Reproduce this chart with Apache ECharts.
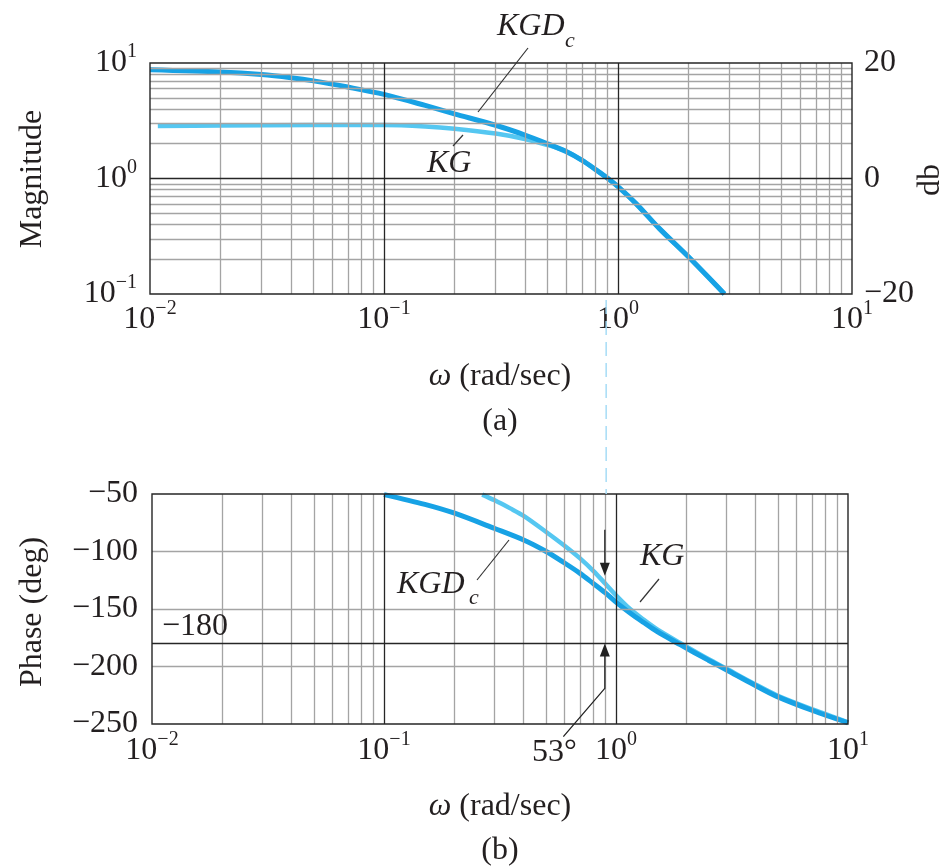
<!DOCTYPE html>
<html><head><meta charset="utf-8">
<script src="https://cdn.jsdelivr.net/npm/echarts@6/dist/echarts.min.js"></script>
<style>html,body{margin:0;padding:0;background:#fff}#c{width:947px;height:867px}</style>
</head><body><div id="c"></div>
<script>
// ---------- data ----------
const magW_KGDc = [0.01,0.02,0.03,0.04,0.05,0.07,0.1,0.15,0.2,0.3,0.4,0.5,0.6,0.7,0.8,0.9,1.0,1.2,1.5,2.0,2.5,2.85];
const mag_KGDc  = [8.75,8.36,7.94,7.46,7.0,6.19,5.35,4.29,3.63,2.89,2.38,2.0,1.71,1.44,1.2,1.01,0.85,0.6,0.37,0.21,0.132,0.1];
const magW_KG   = [0.0108,0.02,0.05,0.1,0.15,0.2,0.3,0.4,0.5,0.6,0.7,0.8,0.9,1.0,1.2,1.5,2.0,2.5,2.85];
const mag_KG    = [2.85,2.88,2.9,2.9,2.82,2.7,2.45,2.2,1.95,1.72,1.44,1.2,1.01,0.85,0.6,0.37,0.21,0.132,0.1];

const phW_KGDc = [0.1,0.15,0.2,0.3,0.4,0.5,0.6,0.7,0.8,0.9,1.0,1.15,1.31,1.5,1.89,2.5,3.0,3.9,4.93,7.08,10];
const ph_KGDc  = [-50.5,-59,-66.5,-80,-90,-100,-110,-119,-128,-136,-144,-153.5,-161.5,-169.5,-181,-194.5,-203,-215.5,-226,-238.5,-249];
const phW_KG   = [0.265,0.3,0.35,0.4,0.5,0.6,0.7,0.8,0.9,1.0,1.15,1.31,1.5,1.89,2.5,3.0,3.9,4.93,7.08,10];
const ph_KG    = [-50.5,-55.5,-62.5,-69,-83,-95,-106,-117,-128,-138,-150,-159,-167.5,-179.5,-193.5,-202,-214.5,-225,-237.5,-248.5];

const xMinor   = [0.02,0.03,0.04,0.05,0.06,0.07,0.08,0.09,0.2,0.3,0.4,0.5,0.6,0.7,0.8,0.9,2,3,4,5,6,7,8,9];
const xMajor   = [0.1,1];
const magMinor = [0.2,0.3,0.4,0.5,0.6,0.7,0.8,0.9,2,3,4,5,6,7,8,9];
const magMajor = [1];
const phGrid   = [-100,-150,-200];
const phRef    = -180;
const wc       = 0.89;      // crossover frequency
const pmTop    = -81, pmTip = -121, pmLow = -219; // arrow phases
const pmText   = '53°';

// ---------- styling ----------
const FONT = '"Liberation Serif","Times New Roman",serif';
const INK = '#231f20';
const C_KGDc = '#17a2e5';
const C_KG = '#55c7f1';
const GRIDC = '#a4a4a4';
const MAJC = '#262626';

const zip = (a,b) => a.map((v,i)=>[v,b[i]]);
const minus = s => String(s).replace('-', '\u2212');
const pow10 = v => { const e = Math.round(Math.log10(v)); return '{b|10}{s|' + minus(e) + '}'; };
const supRich = {
  b:{fontFamily:FONT,fontSize:32,color:INK,lineHeight:42},
  s:{fontFamily:FONT,fontSize:20,color:INK,verticalAlign:'top'}
};
const gridLines = (xs, xsMaj, ys, ysMaj) => ({
  silent:true, symbol:['none','none'], label:{show:false}, animation:false, z:5,
  emphasis:{disabled:true},
  lineStyle:{color:GRIDC,width:1.3,type:'solid'},
  data:[
    ...xs.map(v=>({xAxis:v})),
    ...ys.map(v=>({yAxis:v})),
    ...xsMaj.map(v=>({xAxis:v,lineStyle:{color:MAJC,width:1.3,type:'solid'}})),
    ...ysMaj.map(v=>({yAxis:v,lineStyle:{color:MAJC,width:1.3,type:'solid'}}))
  ]
});
const baseAxis = {axisLine:{show:false},axisTick:{show:false},splitLine:{show:false},minorTick:{show:false},minorSplitLine:{show:false}};
const curve = (name, xi, yi, d, color, w, z, ml) => ({name, type:'line', xAxisIndex:xi, yAxisIndex:yi, data:d,
  showSymbol:false, smooth:0.3, z, lineStyle:{color, width:w, cap:'butt'}, markLine:ml});

const chart = echarts.init(document.getElementById('c'));
chart.setOption({
  animation:false,
  grid:[
    {left:150,top:63,width:702,height:231,containLabel:false,outerBoundsMode:'none'},
    {left:152,top:494,width:696,height:230,containLabel:false,outerBoundsMode:'none'}
  ],
  xAxis:[
    Object.assign({type:'log',logBase:10,gridIndex:0,min:0.01,max:10,
      axisLabel:{formatter:pow10,rich:supRich,margin:5,showMinLabel:true,showMaxLabel:true,hideOverlap:false}},baseAxis),
    Object.assign({type:'log',logBase:10,gridIndex:1,min:0.01,max:10,
      axisLabel:{formatter:pow10,rich:supRich,margin:6,showMinLabel:true,showMaxLabel:true,hideOverlap:false}},baseAxis)
  ],
  yAxis:[
    Object.assign({type:'log',logBase:10,gridIndex:0,min:0.1,max:10,position:'left',
      axisLabel:{formatter:pow10,rich:supRich,margin:13,showMinLabel:true,showMaxLabel:true}},baseAxis),
    Object.assign({type:'log',logBase:10,gridIndex:0,min:0.1,max:10,position:'right',
      axisLabel:{formatter:v=>minus(Math.round(20*Math.log10(v))),fontFamily:FONT,fontSize:32,color:INK,margin:12,showMinLabel:true,showMaxLabel:true}},baseAxis),
    Object.assign({type:'value',gridIndex:1,min:-250,max:-50,interval:50,
      axisLabel:{formatter:v=>minus(v),fontFamily:FONT,fontSize:32,color:INK,margin:14,showMinLabel:true,showMaxLabel:true}},baseAxis)
  ],
  series:[
    curve('KG',0,0,zip(magW_KG,mag_KG),C_KG,4.5,2,gridLines(xMinor,xMajor,magMinor,magMajor)),
    curve('KGDc',0,0,zip(magW_KGDc,mag_KGDc),C_KGDc,5,3),
    curve('KG phase',1,2,zip(phW_KG,ph_KG),C_KG,4.5,2,gridLines(xMinor,xMajor,phGrid,[phRef])),
    curve('KGDc phase',1,2,zip(phW_KGDc,ph_KGDc),C_KGDc,5,3)
  ]
});

// ---------- annotations ----------
const P = (gi, x, y) => chart.convertToPixel({gridIndex:gi}, [x, y]);
const g = [];
const txt = (x, y, text, o) => { o = o || {}; g.push({type:'text', x:x, y:y, z:100, rotation:o.rot||0,
  style:{text:text, fontFamily:FONT, fontSize:o.size||32, fontStyle:o.italic?'italic':'normal', fill:INK,
    align:o.align||'left', verticalAlign:'middle', rich:o.rich}}); };
const line = (x1,y1,x2,y2,o) => { o = o || {}; g.push({type:'line', z:100, shape:{x1,y1,x2,y2},
  style:{stroke:o.color||'#333', lineWidth:o.w||1.2, lineDash:o.dash||null}}); };

// frames
[[0,0.01,10,10,0.1],[1,0.01,-50,10,-250]].forEach(([gi,x0,y0,x1,y1])=>{
  const a = P(gi,x0,y0), b = P(gi,x1,y1);
  g.push({type:'rect', z:99, shape:{x:a[0],y:a[1],width:b[0]-a[0],height:b[1]-a[1]}, style:{fill:'none',stroke:MAJC,lineWidth:1.4}});
});

// crossover dashed line
const topBot = P(0, wc, 0.1), botTop = P(1, 0.01, -50);
line(topBot[0], topBot[1]+6, topBot[0], botTop[1], {color:'#a6dcf6', w:1.5, dash:[14,7]});

// phase margin arrows
const aT = P(1, 0.895, pmTop), aTip = P(1, 0.895, pmTip);
line(aT[0], aT[1], aTip[0], aTip[1]-11, {color:'#222', w:1.3});
g.push({type:'polygon', z:100, shape:{points:[[aTip[0]-5,aTip[1]-13],[aTip[0]+5,aTip[1]-13],[aTip[0],aTip[1]]]}, style:{fill:'#222'}});
const bTip = P(1, 0.895, phRef), bLow = P(1, 0.895, pmLow), bEnd = P(1, 0.593, -261);
g.push({type:'polyline', z:100, shape:{points:[[bTip[0],bTip[1]+11],[bLow[0],bLow[1]],[bEnd[0],bEnd[1]]]}, style:{stroke:'#222',lineWidth:1.3,fill:null}});
g.push({type:'polygon', z:100, shape:{points:[[bTip[0]-5,bTip[1]+13],[bTip[0]+5,bTip[1]+13],[bTip[0],bTip[1]]]}, style:{fill:'#222'}});

// labels
txt(497, 27, 'KGD', {italic:true});
txt(565, 41, 'c', {italic:true, size:22});
line(528, 48, 478, 112);
txt(427, 164, 'KG', {italic:true});
line(453, 146, 463, 135);
txt(397, 585, 'KGD', {italic:true});
txt(469, 598, 'c', {italic:true, size:22});
line(477, 580, 509, 540);
txt(640, 557, 'KG', {italic:true});
line(640, 602, 659, 579);
txt(162, 627, minus(phRef));
txt(532, 753, pmText);

const wRich = {w:{fontStyle:'italic', fontFamily:FONT, fontSize:32, fill:INK}};
txt(500, 377, '{w|ω} (rad/sec)', {align:'center', rich:wRich});
txt(500, 422, '(a)', {align:'center'});
txt(500, 807, '{w|ω} (rad/sec)', {align:'center', rich:wRich});
txt(500, 851, '(b)', {align:'center'});
txt(33, 179, 'Magnitude', {align:'center', rot:Math.PI/2});
txt(33, 612, 'Phase (deg)', {align:'center', rot:Math.PI/2});
txt(931, 180, 'db', {align:'center', rot:Math.PI/2});

chart.setOption({graphic:{elements:g}});
</script>
</body></html>
